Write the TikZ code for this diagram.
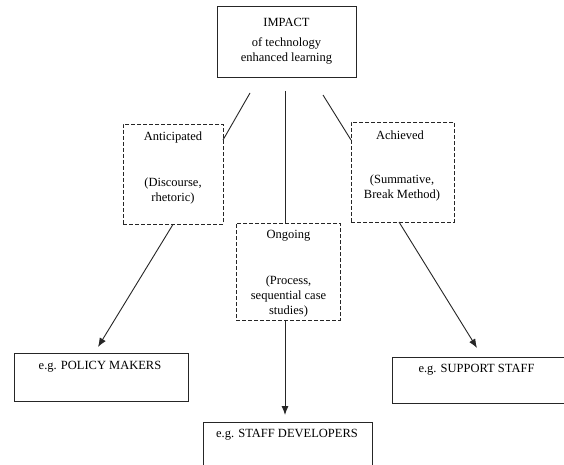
\documentclass[tikz,border=0pt]{standalone}
\usepackage{fontspec}
\setmainfont{Liberation Serif}
\usepackage{tikz}
\usetikzlibrary{arrows.meta}

\tikzset{
	box/.style={draw=black!85, line width=0.9pt, rectangle, inner sep=0pt},
	dbox/.style={box, dashed, dash pattern=on 4pt off 2pt, line width=0.8pt},
	txt/.style={inner sep=0pt, align=center, font=\fontsize{12.5}{15}\selectfont}
}

\begin{document}
\begin{tikzpicture}[>={Latex[length=9pt,width=7pt]}, x=1pt, y=1pt]
	
	\clip (0,0) rectangle (564,-465);
	\fill[white] (0,0) rectangle (564,-465);
	
	% Kaesten
	\node[box, minimum width=139pt, minimum height=71pt](imp) at (286.5,-41.5) {};
	\node[dbox, minimum width=100pt, minimum height=100pt](ant) at (173,-174) {};
	\node[dbox, minimum width=103pt, minimum height=100pt](ach) at (402.5,-172) {};
	\node[dbox, minimum width=104pt, minimum height=97pt](ong) at (288,-271.5) {};
	\node[box, minimum width=174pt, minimum height=48pt](pol) at (101,-377) {};
	\node[box, minimum width=183pt, minimum height=46pt](sup) at (483.5,-380) {};
	\node[box, minimum width=169pt, minimum height=58pt](sta) at (287.5,-451) {};
	
	% Texte
	\node[txt](IMP) at (286.5,-22) {IMPACT};
	\node[txt](IMP2) at (286.5,-50.5) {of technology\\enhanced learning};
	\node[txt](ANT) at (173,-137) {Anticipated};
	\node[txt](ANT2) at (173,-190.5) {(Discourse,\\rhetoric)};
	\node[txt](ACH) at (400,-135) {Achieved};
	\node[txt](ACH2) at (402,-187.5) {(Summative,\\Break Method)};
	\node[txt](ONG) at (288.5,-236) {Ongoing};
	\node[txt](ONG2) at (288.5,-296) {(Process,\\sequential case\\studies)};
	\node[txt](POL) at (100,-367) {e.g. POLICY MAKERS};
	\node[txt](SUP) at (476.5,-370) {e.g. SUPPORT STAFF};
	\node[txt](STA) at (287,-435) {e.g. STAFF DEVELOPERS};
	
	\coordinate (a_start) at (250,-93);
	\coordinate (a_ende) at (223,-140);
	\coordinate (b_start) at (285,-91);
	\coordinate (b_ende) at (285,-223);
	\coordinate (c_start) at (323,-95);
	\coordinate (c_ende) at (351,-140);
	
	\coordinate (d_start) at (ant.south);
	\coordinate (d_ende) at (98,-347);
	\coordinate (e_start) at (285,-320);
	\coordinate (e_ende) at (285,-415);
	\coordinate (f_start) at (399,-222);
	\coordinate (f_ende) at (477,-348);
	
	% Linien oben
	\draw[-, line width=0.9pt, black!85](a_start) -- (a_ende);
	\draw[-, line width=0.9pt, black!85](b_start) -- (b_ende);
	\draw[-, line width=0.9pt, black!85](c_start) -- (c_ende);
	
	% Pfeile unten
	\draw[->, line width=0.9pt, black!85](d_start) -- (d_ende);
	\draw[->, line width=0.9pt, black!85](e_start) -- (e_ende);
	\draw[->, line width=0.9pt, black!85](f_start) -- (f_ende);
\end{tikzpicture}
\end{document}
